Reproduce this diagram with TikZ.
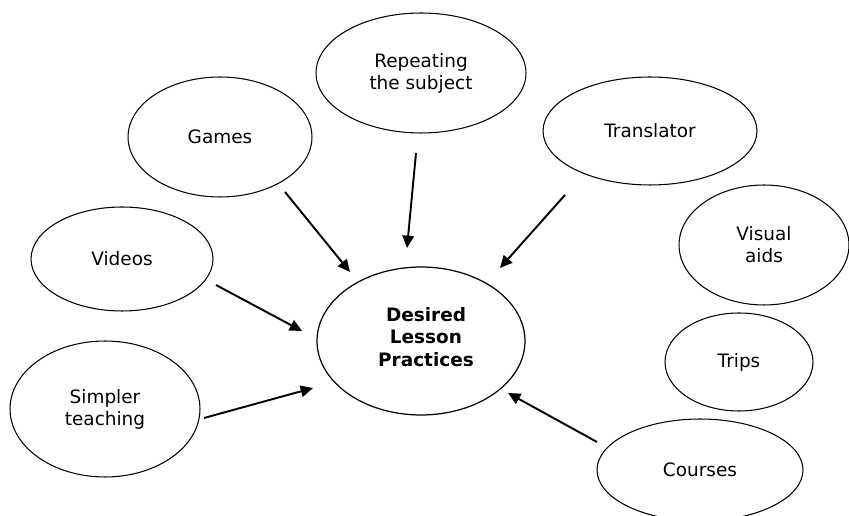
\documentclass[tikz,border=0pt]{standalone}
\usepackage{fontspec}
\setmainfont{DejaVu Sans}
\usetikzlibrary{shapes.geometric,arrows.meta}
\begin{document}
\begin{tikzpicture}[x=0.02cm,y=-0.02cm,
  bubble/.style={draw,ellipse,line width=0.6pt,inner sep=0pt,align=center,
    font=\fontsize{10.5}{12.5}\selectfont},
  hub/.style={bubble,line width=0.7pt,font=\fontsize{10.5}{13}\selectfont\bfseries},
  arr/.style={line width=1.1pt,-{Triangle[length=7pt,width=6.5pt]}}]
\useasboundingbox (0,0) rectangle (849,516);
% central idea
\node[hub,minimum width=4.16cm,minimum height=2.96cm] (hub) at (421,341) {};
\node[font=\fontsize{10.5}{13}\selectfont\bfseries,align=center] (hubtext) at (426,337) {Desired\\Lesson\\Practices};
% surrounding ideas
\node[bubble,minimum width=3.68cm,minimum height=2.4cm] (games) at (220,137) {Games};
\node[bubble,minimum width=4.2cm,minimum height=2.4cm] (repeat) at (421,73) {Repeating\\the subject};
\node[bubble,minimum width=4.28cm,minimum height=2.16cm] (translator) at (650,131) {Translator};
\node[bubble,minimum width=3.4cm,minimum height=2.4cm] (visual) at (764,245) {Visual\\aids};
\node[bubble,minimum width=2.96cm,minimum height=1.96cm] (trips) at (739,362) {Trips};
\node[bubble,minimum width=4.12cm,minimum height=2.04cm] (courses) at (700,470) {Courses};
\node[bubble,minimum width=3.64cm,minimum height=2.08cm] (videos) at (122,259) {Videos};
\node[bubble,minimum width=3.8cm,minimum height=2.72cm] (simpler) at (105,409) {Simpler\\teaching};
% arrow end points
\coordinate (gS) at (285,192); \coordinate (gE) at (350,272);
\coordinate (rS) at (416,153); \coordinate (rE) at (407,248);
\coordinate (tS) at (565,195); \coordinate (tE) at (500,268);
\coordinate (vS) at (216,285); \coordinate (vE) at (302,331);
\coordinate (sS) at (204,418); \coordinate (sE) at (313,388);
\coordinate (cS) at (597,442); \coordinate (cE) at (508,393);
% arrows
\draw[arr] (gS) -- (gE);
\draw[arr] (rS) -- (rE);
\draw[arr] (tS) -- (tE);
\draw[arr] (vS) -- (vE);
\draw[arr] (sS) -- (sE);
\draw[arr] (cS) -- (cE);
\end{tikzpicture}
\end{document}
